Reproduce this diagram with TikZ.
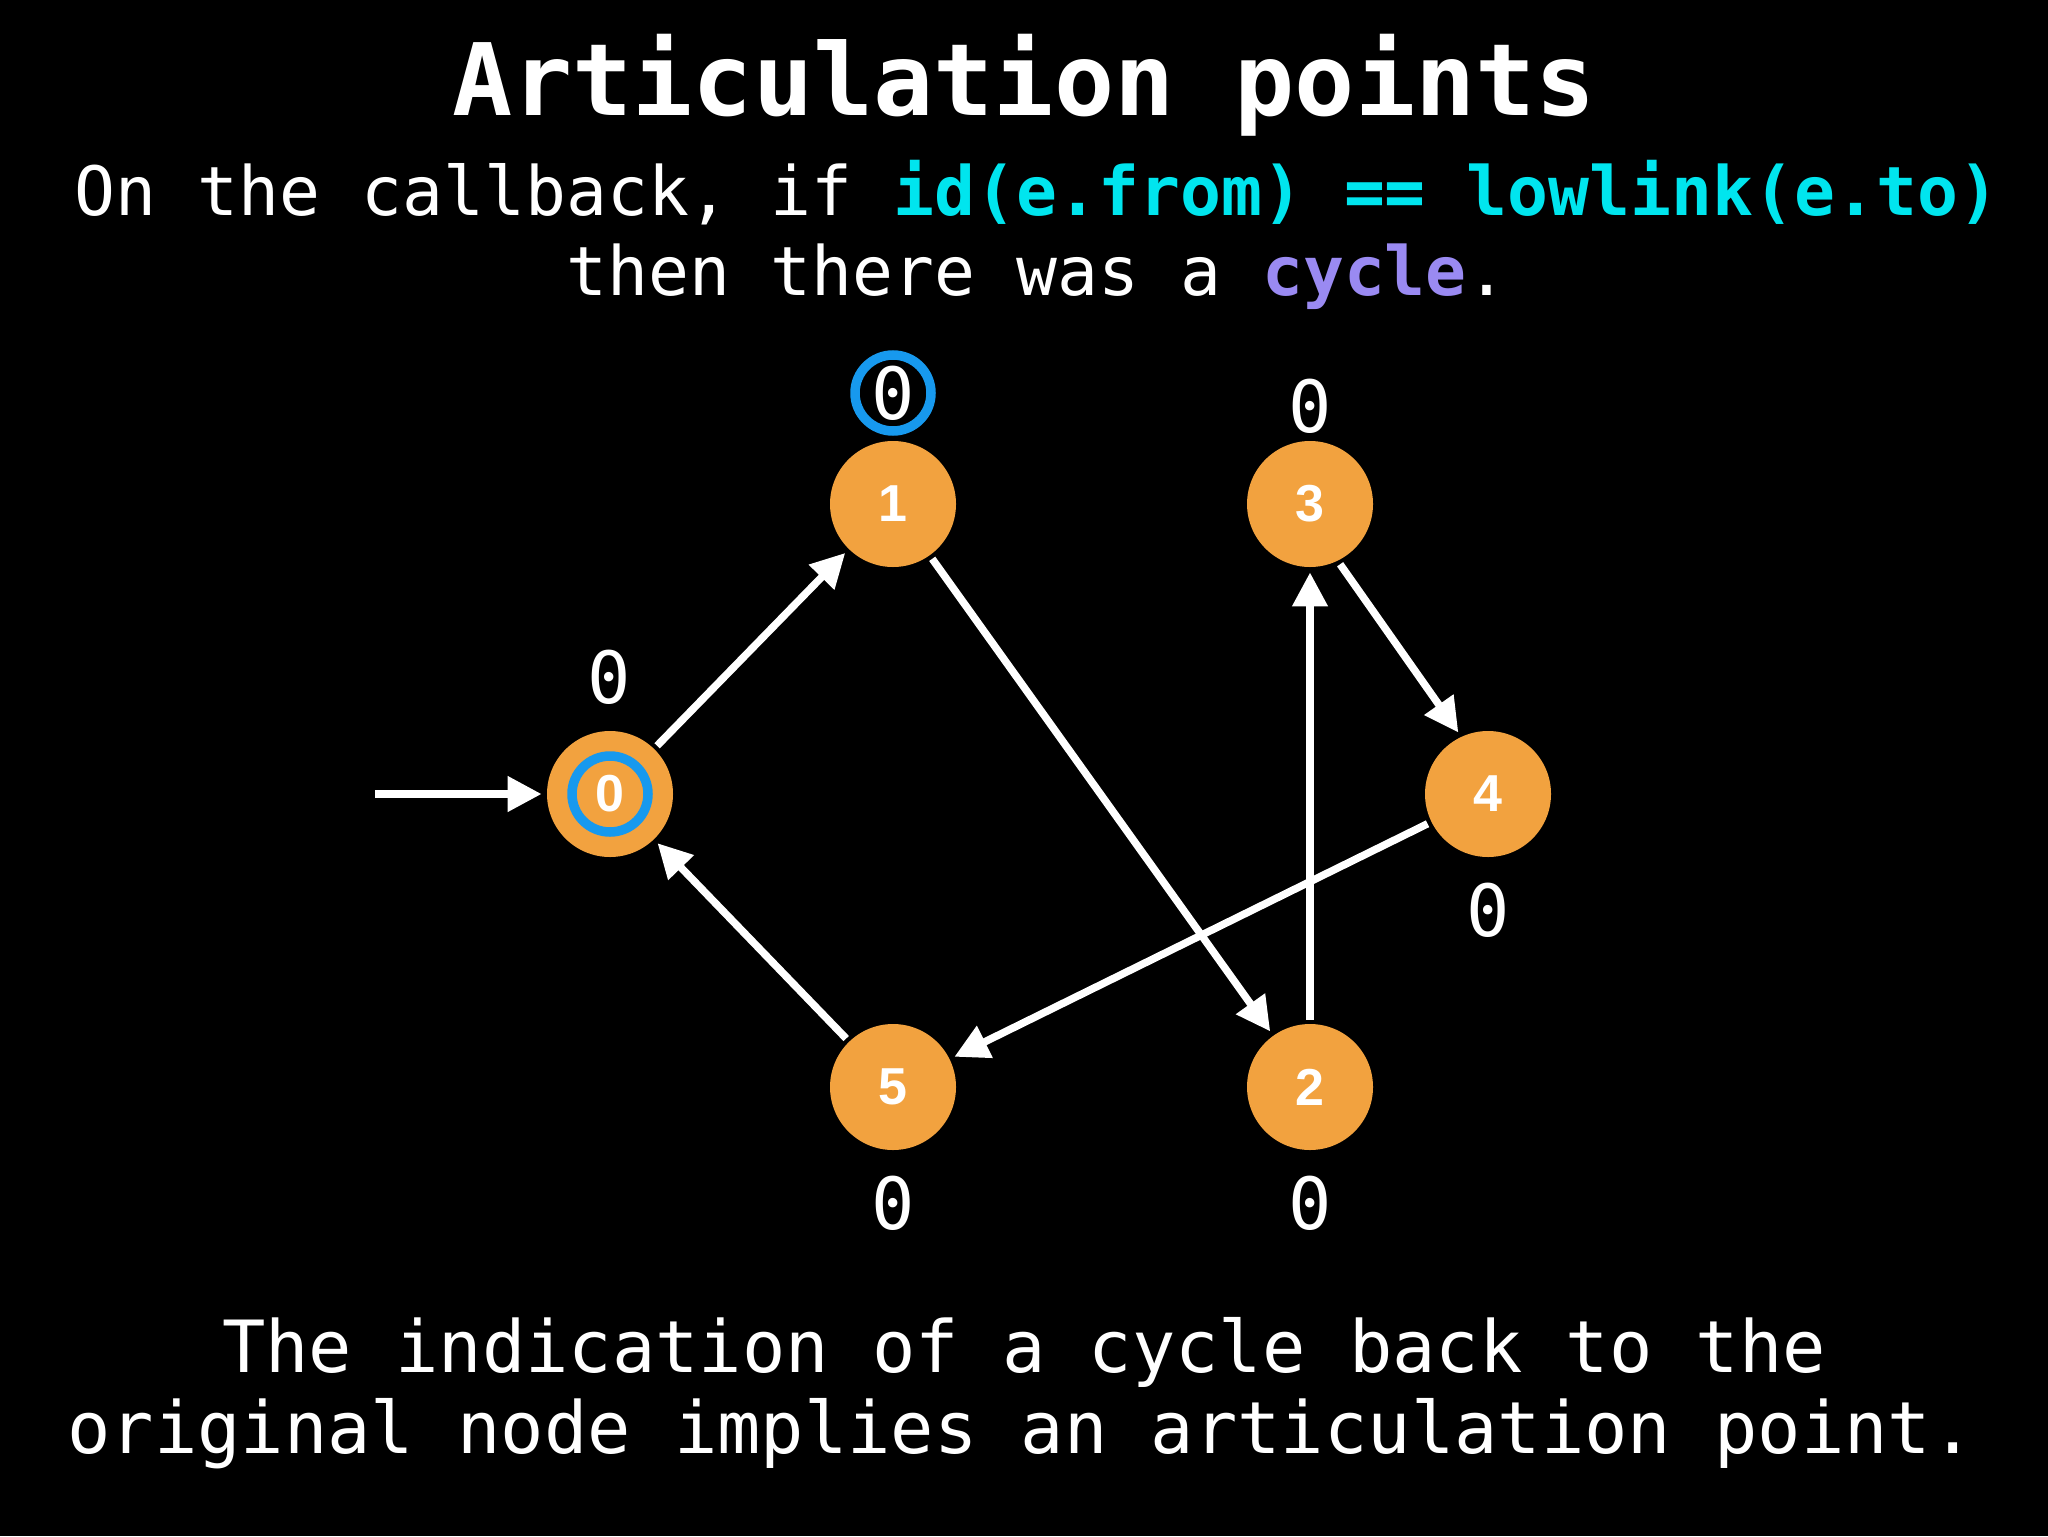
\documentclass[tikz,border=0pt]{standalone}
\usepackage{fontspec}
\setmainfont{DejaVu Sans Mono}
\setsansfont{Liberation Sans}
\usetikzlibrary{arrows.meta}
\definecolor{orng}{HTML}{F2A23F}
\definecolor{ringblue}{HTML}{1799EE}
\definecolor{cyantext}{HTML}{00E5EE}
\definecolor{purp}{HTML}{9A8AF2}
\begin{document}
\begin{tikzpicture}[x=0.5pt,y=-0.5pt,
  vfont/.style={font=\sffamily\bfseries\fontsize{26}{26}\selectfont},
  vtx/.style={circle,fill=orng,minimum size=63pt,inner sep=0pt,text=white,vfont},
  val/.style={text=white,font=\fontsize{36}{36}\selectfont,inner sep=0pt},
  edge/.style={draw=white,line width=3.75pt,-{Triangle[length=17pt,width=17pt]},shorten <=2pt,shorten >=2.5pt},
  ring/.style={draw=ringblue,line width=4.75pt,circle,minimum size=38pt,inner sep=0pt},
  txt/.style={text=white,inner sep=0pt,anchor=base}
]
\fill[black] (0,0) rectangle (2048,1536);
\useasboundingbox (0,0) rectangle (2048,1536);

% texts
\node[txt,font=\bfseries\fontsize{50}{60}\selectfont] (title) at (1024,115) {Articulation points};
\node[txt,font=\fontsize{34}{40}\selectfont] (sub1) at (1037,215) {On the callback, if \textcolor{cyantext}{\bfseries id(e.from) == lowlink(e.to)}};
\node[txt,font=\fontsize{34}{40}\selectfont] (sub2) at (1037,295) {then there was a \textcolor{purp}{\bfseries cycle}.};
\node[txt,font=\fontsize{36}{42}\selectfont] (bot1) at (1024,1372) {The indication of a cycle back to the};
\node[txt,font=\fontsize{36}{42}\selectfont] (bot2) at (1021,1453) {original node implies an articulation point.};

% vertices
\node[vtx] (n0) at (610,794) {};
\node[ring] (r0) at (610,794) {};
\node[text=white,vfont,inner sep=0pt] (l0) at (610,794) {0};
\node[vtx] (n1) at (893,504) {1};
\node[vtx] (n3) at (1310,504) {3};
\node[vtx] (n4) at (1488,794) {4};
\node[vtx] (n5) at (893,1087) {5};
\node[vtx] (n2) at (1310,1087) {2};

% values
\node[val] (v0) at (609,677) {0};
\node[val] (v1) at (893,393) {0};
\node[ring] (r1) at (893,393) {};
\node[val] (v3) at (1310,406) {0};
\node[val] (v4) at (1488,910) {0};
\node[val] (v5) at (893,1203) {0};
\node[val] (v2) at (1310,1203) {0};

% edges
\coordinate (start) at (371,794);
\draw[edge] (start) -- (n0);
\draw[edge] (n0) -- (n1);
\draw[edge] (n1) -- (n2);
\draw[edge] (n2) -- (n3);
\draw[edge] (n3.-64) -- (n4.115);
\draw[edge] (n4) -- (n5);
\draw[edge] (n5) -- (n0);
\end{tikzpicture}
\end{document}
